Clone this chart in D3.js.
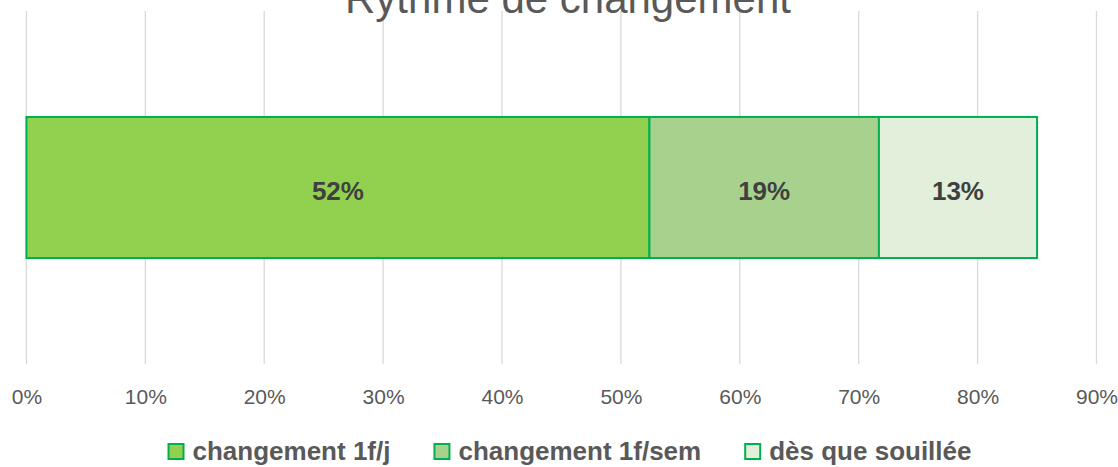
<!DOCTYPE html>
<html>
<head>
<meta charset="utf-8">
<script src="https://cdn.jsdelivr.net/npm/d3@7"></script>
<style>
  body { margin: 0; background: #fff; }
  svg { display: block; font-family: "Liberation Sans", Arial, sans-serif; }
</style>
</head>
<body>
<div id="chart"></div>
<script>
// data
const categories = ["Rythme de changement"];
const seriesNames = ["changement 1f/j", "changement 1f/sem", "dès que souillée"];
const seriesValues = [0.524, 0.193, 0.133];
const seriesColors = ["#92D050", "#A9D18E", "#E2EFDA"];
const tickValues = [0, 0.1, 0.2, 0.3, 0.4, 0.5, 0.6, 0.7, 0.8, 0.9];

const width = 1118;
const height = 467;

const svg = d3.select("#chart").append("svg")
  .attr("width", width)
  .attr("height", height);

const x = d3.scaleLinear()
  .domain([0, 0.9])
  .range([26.4, 1096.5]);

const y = d3.scaleBand()
  .domain(categories)
  .range([11, 364])
  .paddingInner(0.429)
  .paddingOuter(0.429);

// gridlines
svg.append("g")
  .selectAll("line")
  .data(tickValues)
  .join("line")
  .attr("x1", d => x(d))
  .attr("x2", d => x(d))
  .attr("y1", 11)
  .attr("y2", 364)
  .attr("stroke", "#D9D9D9")
  .attr("stroke-width", 1.3);

// tick labels (axis without line)
const axis = svg.append("g")
  .attr("transform", "translate(0,364)")
  .call(d3.axisBottom(x).tickValues(tickValues).tickFormat(d3.format(".0%")).tickSize(0).tickPadding(25));
axis.select(".domain").remove();
axis.selectAll("text")
  .attr("fill", "#595959")
  .style("font-size", "21px")
  .style("font-family", "Liberation Sans, Arial, sans-serif");

// stacked bar
const row = { cat: categories[0] };
seriesNames.forEach((s, i) => row[s] = seriesValues[i]);
const stacked = d3.stack().keys(seriesNames)([row]);

const segs = svg.append("g")
  .selectAll("g")
  .data(stacked)
  .join("g");

segs.append("rect")
  .attr("x", d => x(d[0][0]))
  .attr("y", d => y(d[0].data.cat))
  .attr("width", d => x(d[0][1]) - x(d[0][0]))
  .attr("height", y.bandwidth())
  .attr("fill", (d, i) => seriesColors[i])
  .attr("stroke", "#00B050")
  .attr("stroke-width", 2);

segs.append("text")
  .attr("x", d => (x(d[0][0]) + x(d[0][1])) / 2)
  .attr("y", d => y(d[0].data.cat) + y.bandwidth() / 2 + 3)
  .attr("dy", "0.35em")
  .attr("text-anchor", "middle")
  .attr("fill", "#404040")
  .style("font-size", "26px")
  .style("font-weight", "bold")
  .text(d => d3.format(".0%")(d[0][1] - d[0][0]));

// title (cut off at the top, as in the original)
svg.append("text")
  .attr("x", 568)
  .attr("y", 13)
  .attr("text-anchor", "middle")
  .attr("fill", "#595959")
  .style("font-size", "42px")
  .text("Rythme de changement");

// legend
const legend = svg.append("g");
const items = legend.selectAll("g")
  .data(seriesNames)
  .join("g");

items.append("rect")
  .attr("width", 15)
  .attr("height", 15)
  .attr("y", 444)
  .attr("fill", (d, i) => seriesColors[i])
  .attr("stroke", "#00B050")
  .attr("stroke-width", 2);

items.append("text")
  .attr("x", 24)
  .attr("y", 460)
  .attr("fill", "#595959")
  .style("font-size", "26px")
  .style("font-weight", "bold")
  .text(d => d);

// lay out legend items side by side, centred
let pos = 0;
const gap = 44;
const offsets = [];
items.each(function() {
  offsets.push(pos);
  pos += this.getBBox().width + gap;
});
const total = pos - gap;
const start = 570 - total / 2;
items.attr("transform", (d, i) => `translate(${start + offsets[i]},0)`);
</script>
</body>
</html>
